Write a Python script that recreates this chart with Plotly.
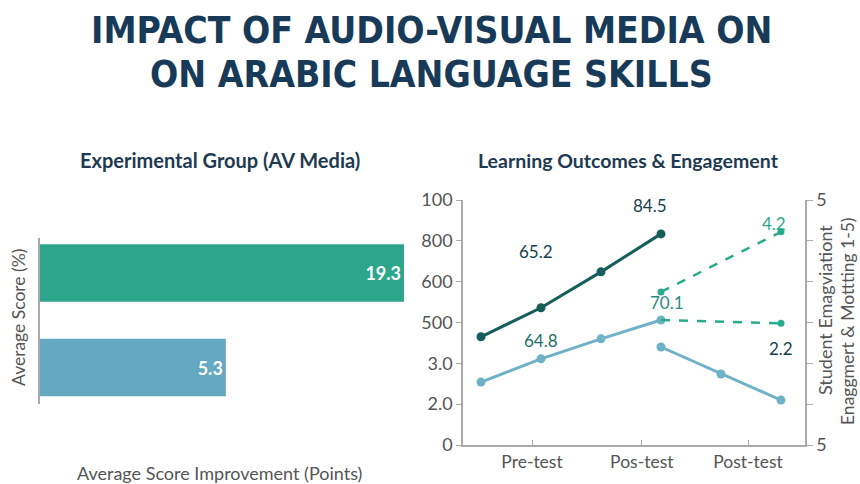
import plotly.graph_objects as go

W, H = 860, 484

# ---------------- data ----------------
title_lines = ["IMPACT OF AUDIO-VISUAL MEDIA ON", "ON ARABIC LANGUAGE SKILLS"]

bar_groups = ["Control Group", "Experimental Group (AV Media)"]
bar_values = [5.3, 19.3]
bar_colors = ["#64A9C1", "#2BA68A"]
bar_axis_start = -9.3  # left edge of the (hidden) improvement axis

y_tick_vals = [0, 1, 2, 3, 4, 5, 6]
y_tick_text = ["0", "2.0", "3.0", "500", "600", "800", "100"]
y2_tick_text = ["5", "", "", "", "", "", "5"]
x_tick_vals = [0.85, 2.68, 4.45]
x_tick_text = ["Pre-test", "Pos-test", "Post-test"]

dark_x = [0, 1, 2, 3]
dark_y = [2.65, 3.36, 4.24, 5.17]
light1_x = [0, 1, 2, 3]
light1_y = [1.54, 2.11, 2.60, 3.06]
light2_x = [3, 4, 5]
light2_y = [2.40, 1.74, 1.10]
green1_x = [3, 5]
green1_y = [3.75, 5.22]
green2_x = [3, 5]
green2_y = [3.06, 2.98]

labels = [  # text, x, y, colour, xshift, yshift
    ("84.5", 3, 5.17, "#173F4F", -11, 28),
    ("65.2", 1, 3.36, "#173F4F", -5, 56),
    ("64.8", 1, 2.11, "#1F6F6A", 0, 18),
    ("70.1", 3, 3.06, "#2A8C80", 6, 18),
    ("4.2", 5, 5.22, "#2BA68A", -7, 8),
    ("2.2", 5, 2.98, "#173F4F", 0, -25),
]

# ---------------- colours / fonts ----------------
DARK = "#155E5A"
LIGHT = "#6FB2C7"
GREEN = "#2BAA8A"
NAVY = "#173A58"
GREY = "#555555"
AXIS = "#AAAAAA"
FONT = "Lato, 'Open Sans', sans-serif"
TITLE_FONT = "'Liberation Sans Narrow', 'DejaVu Sans Condensed', sans-serif"


def px_x(p):
    return p / W


def px_y(p):
    return 1 - p / H


fig = go.Figure()

# ---------------- left: bars ----------------
fig.add_trace(go.Bar(
    y=bar_groups, x=[v - bar_axis_start for v in bar_values], base=bar_axis_start,
    orientation="h", marker=dict(color=bar_colors, line=dict(width=0)),
    width=0.61, text=[f"<b>{v:.1f}</b>" for v in bar_values], textposition="inside",
    insidetextanchor="end", textfont=dict(color="white", size=18, family=FONT),
    xaxis="x", yaxis="y", showlegend=False, cliponaxis=False, hoverinfo="skip",
))

# ---------------- right: lines ----------------
fig.add_trace(go.Scatter(x=dark_x, y=dark_y, mode="lines+markers",
                         line=dict(color=DARK, width=3), marker=dict(size=9, color=DARK),
                         xaxis="x2", yaxis="y2", showlegend=False))
fig.add_trace(go.Scatter(x=light1_x, y=light1_y, mode="lines+markers",
                         line=dict(color=LIGHT, width=3), marker=dict(size=9, color=LIGHT),
                         xaxis="x2", yaxis="y2", showlegend=False))
fig.add_trace(go.Scatter(x=light2_x, y=light2_y, mode="lines+markers",
                         line=dict(color=LIGHT, width=3), marker=dict(size=9, color=LIGHT),
                         xaxis="x2", yaxis="y2", showlegend=False))
fig.add_trace(go.Scatter(x=green2_x, y=green2_y, mode="lines",
                         line=dict(color=GREEN, width=2.5, dash="dash"),
                         xaxis="x2", yaxis="y2", showlegend=False))
fig.add_trace(go.Scatter(x=green2_x[1:], y=green2_y[1:], mode="markers",
                         marker=dict(size=7, color=GREEN),
                         xaxis="x2", yaxis="y2", showlegend=False))
fig.add_trace(go.Scatter(x=green1_x, y=green1_y, mode="lines+markers",
                         line=dict(color=GREEN, width=2.5, dash="dash"),
                         marker=dict(size=7, color=GREEN),
                         xaxis="x2", yaxis="y2", showlegend=False))
# dummy trace to show the right axis
fig.add_trace(go.Scatter(x=[None], y=[None], xaxis="x2", yaxis="y3", showlegend=False))

annotations = []
for text, x, y, col, xs, ys in labels:
    annotations.append(dict(text=text, x=x, y=y, xref="x2", yref="y2", showarrow=False,
                            xshift=xs, yshift=ys, xanchor="center", yanchor="middle",
                            font=dict(size=17, color=col, family=FONT)))


def paper_text(text, x, y, size, color, angle=0, family=FONT):
    return dict(text=text, x=px_x(x), y=px_y(y), xref="paper", yref="paper",
                showarrow=False, textangle=angle, xanchor="center", yanchor="middle",
                font=dict(size=size, color=color, family=family))


annotations.append(paper_text("<b>" + title_lines[0] + "</b>", 431, 30, 37, NAVY, family=TITLE_FONT))
annotations.append(paper_text("<b>" + title_lines[1] + "</b>", 431, 75, 37, NAVY, family=TITLE_FONT))
annotations.append(paper_text("<b>Experimental Group (AV Media)</b>", 220, 160, 20, "#1E3A52"))
annotations.append(paper_text("<b>Learning Outcomes & Engagement</b>", 628, 160, 19.5, "#1E3A52"))
annotations.append(paper_text("Average Score (%)", 18, 318, 17.5, GREY, angle=-90))
annotations.append(paper_text("Average Score Improvement (Points)", 219, 473, 18, GREY))
annotations.append(paper_text("Student Emagviationt", 825, 310, 18, GREY, angle=-90))
annotations.append(paper_text("Enaggmert & Mottting 1-5)", 847, 322, 17.5, GREY, angle=-90))

fig.update_layout(
    template="none",
    width=W, height=H, margin=dict(l=0, r=0, t=0, b=0, pad=0, autoexpand=False),
    paper_bgcolor="white", plot_bgcolor="white",
    font=dict(family=FONT, color=GREY, size=16),
    annotations=annotations,
    hovermode="closest",
    xaxis=dict(domain=[px_x(40), px_x(410)], range=[bar_axis_start, 19.77], automargin=False,
               showgrid=False, zeroline=False, showticklabels=False, showline=False, ticks=""),
    yaxis=dict(domain=[px_y(404), px_y(238)], type="category", automargin=False,
               categoryorder="array", categoryarray=bar_groups, ticks="",
               range=[-0.386, 1.37], showgrid=False, zeroline=False, showticklabels=False,
               showline=True, linecolor=AXIS, linewidth=1.5),
    xaxis2=dict(domain=[px_x(463), px_x(805)], range=[-0.3, 5.4], anchor="y2", automargin=False,
                tickvals=x_tick_vals, ticktext=x_tick_text, ticks="inside", ticklen=5,
                tickcolor=AXIS, showgrid=False, zeroline=False,
                showline=True, linecolor=AXIS, linewidth=1.5,
                tickfont=dict(size=17.5, color=GREY)),
    yaxis2=dict(domain=[px_y(445), px_y(200)], range=[0, 6], anchor="x2", automargin=False,
                tickvals=y_tick_vals, ticktext=y_tick_text, ticks="outside", ticklen=5,
                tickcolor=AXIS, showgrid=False, zeroline=False,
                showline=True, linecolor=AXIS, linewidth=1.5,
                tickfont=dict(size=18, color=GREY)),
    yaxis3=dict(domain=[px_y(445), px_y(200)], range=[0, 6], anchor="x2", overlaying="y2",
                automargin=False,
                side="right", tickvals=y_tick_vals, ticktext=y2_tick_text, ticks="outside",
                ticklen=6, tickcolor=AXIS, showgrid=False, zeroline=False,
                showline=True, linecolor=AXIS, linewidth=1.5,
                tickfont=dict(size=18, color=GREY)),
)

fig.write_html("out.html", config={"displayModeBar": False},
               post_script="document.body.style.margin='0';document.body.style.overflow='hidden';")
